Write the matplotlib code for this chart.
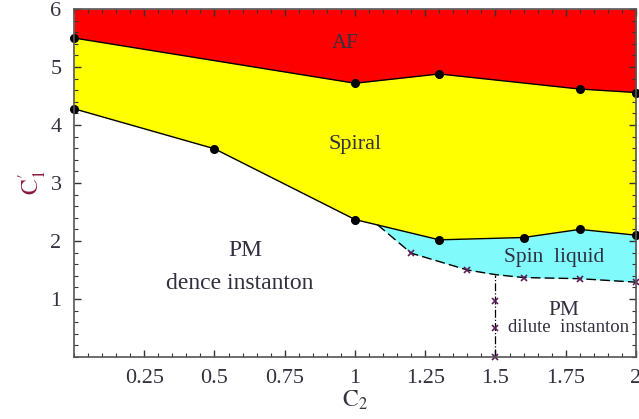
"""Phase diagram in the (C2, C1') plane."""
# %% Imports
import numpy as np
from matplotlib import pyplot as plt
from matplotlib.ticker import MultipleLocator, FixedLocator

plt.rcParams["font.family"] = ["Liberation Serif", "DejaVu Serif"]
plt.rcParams["mathtext.fontset"] = "stix"

# %% Data
# AF / spiral boundary
c2_af = [0.0, 1.0, 1.3, 1.8, 2.0]
c1_af = [5.5, 4.72, 4.88, 4.62, 4.56]

# spiral / PM and spiral / spin liquid boundary
c2_sp = [0.0, 0.5, 1.0, 1.3, 1.6, 1.8, 2.0]
c1_sp = [4.28, 3.59, 2.37, 2.02, 2.06, 2.2, 2.1]

# spin liquid / PM boundary (dashed)
c2_sl = [1.08, 1.2, 1.4, 1.5, 1.6, 1.8, 2.0]
c1_sl = [2.28, 1.79, 1.5, 1.42, 1.37, 1.35, 1.29]
c2_sl_mark = [1.2, 1.4, 1.6, 1.8, 2.0]
c1_sl_mark = [1.79, 1.5, 1.37, 1.35, 1.29]

# dense / dilute instanton crossover
c2_inst = [1.5, 1.5]
c1_inst = [0.0, 1.42]
c1_inst_mark = [0.0, 0.5, 0.97]

xtick_vals = [0.25, 0.5, 0.75, 1, 1.25, 1.5, 1.75, 2]
xtick_labels = ["0.25", "0.5", "0.75", "1", "1.25", "1.5", "1.75", "2"]
ytick_vals = [1, 2, 3, 4, 5, 6]

# %% Plot
fig = plt.figure(figsize=(6.39, 4.19), dpi=100)
ax = fig.add_axes([0.1158, 0.148, 0.8795, 0.8305])

xg = np.union1d(np.union1d(c2_af, c2_sp), c2_sl)
af_g = np.interp(xg, c2_af, c1_af)
sp_g = np.interp(xg, c2_sp, c1_sp)
ax.fill_between(xg, af_g, 6, color="#ff0000", lw=0)
ax.fill_between(xg, sp_g, af_g, color="#ffff00", lw=0)

xs = np.union1d(c2_sl, [c for c in c2_sp if c >= c2_sl[0]])
ax.fill_between(xs, np.interp(xs, c2_sl, c1_sl), np.interp(xs, c2_sp, c1_sp),
                color="#80fafa", lw=0)

ax.plot(c2_af, c1_af, color="black", lw=1, marker="o", ms=5.5, clip_on=False)
ax.plot(c2_sp, c1_sp, color="black", lw=1, marker="o", ms=5.5, clip_on=False)
ax.plot(c2_sl, c1_sl, color="black", lw=1, ls=(0, (7, 3)))
ax.plot(c2_sl_mark, c1_sl_mark, ls="None", marker="x", ms=5, mew=1.2,
        color="#5a1e5a", clip_on=False)
ax.plot(c2_inst, c1_inst, color="black", lw=0.9, ls="-.")
ax.plot([1.5] * len(c1_inst_mark), c1_inst_mark, ls="None", marker="x", ms=5,
        mew=1.2, color="#5a1e5a", clip_on=False)

tc = "#303040"
ax.text(0.965, 5.4, "AF", ha="center", va="center", fontsize=15, color=tc)
ax.text(1.0, 3.66, "Spiral", ha="center", va="center", fontsize=16, color=tc)
ax.text(0.61, 1.84, "PM", ha="center", va="center", fontsize=17, color=tc)
ax.text(0.59, 1.27, "dence instanton", ha="center", va="center",
        fontsize=17, color=tc)
ax.text(1.71, 1.72, "Spin  liquid", ha="center", va="center", fontsize=15.5,
        color=tc)
ax.text(1.745, 0.8, "PM", ha="center", va="center", fontsize=15.5, color=tc)
ax.text(1.76, 0.5, "dilute  instanton", ha="center", va="center",
        fontsize=13.5, color=tc)

ax.set_xlim(0, 2)
ax.set_ylim(0, 6)
ax.xaxis.set_major_locator(FixedLocator(xtick_vals))
ax.set_xticklabels(xtick_labels)
ax.yaxis.set_major_locator(FixedLocator(ytick_vals))
ax.xaxis.set_minor_locator(MultipleLocator(0.05))
ax.yaxis.set_minor_locator(MultipleLocator(0.2))
ax.tick_params(which="both", direction="in", top=True, right=True,
               color="#333333", labelsize=16, labelcolor="#333340")
ax.tick_params(which="major", length=5, width=1)
ax.tick_params(which="minor", length=3, width=0.8)
ax.tick_params(axis="x", pad=9)
ax.tick_params(axis="y", pad=9)
for s in ax.spines.values():
    s.set_color("#555555")
    s.set_linewidth(1.2)

ax.set_xlabel(r"$\mathrm{C}_2$", fontsize=17, color="#333340", labelpad=0)
ax.set_ylabel(r"$\mathrm{C}_1^{\prime}$", fontsize=17, color="#8a1a3a",
              labelpad=1)

fig.savefig("out.png", dpi=100)
